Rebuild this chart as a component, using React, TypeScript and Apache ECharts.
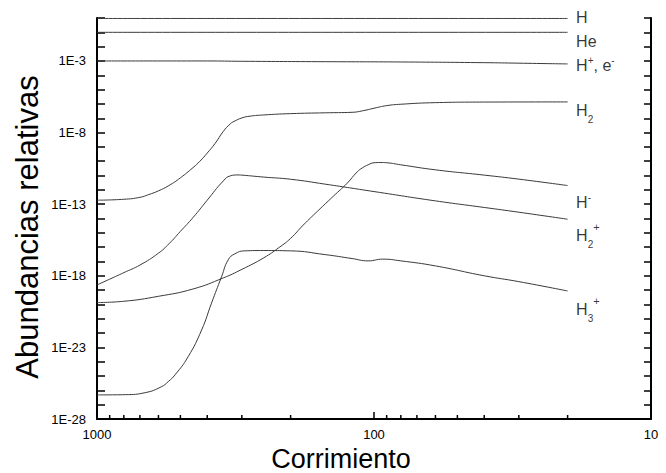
import React, { useEffect, useRef } from 'react';
import * as echarts from 'echarts';

// ---- data (redshift z, relative abundance) ----
const hData = [[1000, 0.93], [20, 0.93]];
const heData = [[1000, 0.1], [20, 0.1]];
const hPlusData = [[1000, 1.0e-3], [400, 1.0e-3], [300, 9.5e-4], [150, 8.9e-4], [80, 8.5e-4], [40, 7.6e-4], [30, 7.0e-4], [20, 6.2e-4]];
const h2Data = [[1000, 1.9e-13], [800, 2.2e-13], [700, 3.0e-13], [650, 4.7e-13], [600, 8.5e-13], [550, 2.0e-12], [500, 6.9e-12], [450, 3.6e-11], [425, 1.0e-10], [400, 3.7e-10], [375, 1.7e-9], [350, 1.2e-8], [330, 4.1e-8], [320, 6.0e-8], [300, 1.05e-7], [280, 1.4e-7], [250, 1.7e-7], [200, 2.1e-7], [150, 2.4e-7], [120, 2.6e-7], [110, 3.3e-7], [100, 5.0e-7], [90, 7.6e-7], [80, 9.5e-7], [60, 1.23e-6], [40, 1.35e-6], [20, 1.38e-6]];
const hMinusData = [[1000, 1.35e-20], [800, 1.66e-20], [600, 3.7e-20], [450, 1.2e-19], [350, 7.1e-19], [300, 2.8e-18], [250, 1.8e-17], [220, 9.5e-17], [200, 4.1e-16], [180, 3.5e-15], [160, 3.2e-14], [140, 3.7e-13], [125, 2.9e-12], [115, 1.8e-11], [110, 3.5e-11], [105, 5.6e-11], [100, 7.8e-11], [95, 8.1e-11], [90, 7.8e-11], [80, 5.6e-11], [60, 2.5e-11], [40, 1.07e-11], [30, 5.6e-12], [20, 2.0e-12]];
const h2PlusData = [[1000, 2.3e-19], [900, 5.8e-19], [800, 1.66e-18], [700, 5.6e-18], [600, 3.8e-17], [550, 1.7e-16], [500, 1.26e-15], [450, 1.17e-14], [400, 1.9e-13], [350, 4.2e-12], [330, 9.5e-12], [310, 1.1e-11], [300, 1.07e-11], [250, 7.8e-12], [200, 5.5e-12], [150, 2.5e-12], [100, 7.6e-13], [60, 1.7e-13], [40, 5.9e-14], [30, 2.75e-14], [20, 8.9e-15]];
const h3PlusData = [[1000, 4.8e-27], [790, 5.0e-27], [670, 6.9e-27], [585, 1.8e-26], [553, 4.1e-26], [523, 1.2e-25], [469, 2.2e-24], [419, 1.66e-22], [386, 1.23e-20], [355, 8.7e-19], [336, 1.3e-17], [318, 3.4e-17], [293, 5.5e-17], [250, 5.8e-17], [200, 5.5e-17], [150, 3.0e-17], [120, 1.6e-17], [105, 1.1e-17], [93, 1.45e-17], [80, 1.1e-17], [60, 4.9e-18], [40, 1.0e-18], [30, 3.9e-19], [20, 8.7e-20]];

const speciesNames = ['H', 'He', 'H+, e-', 'H2', 'H-', 'H2+', 'H3+'];
const speciesLabels = ['H', 'He', 'H{sup|+}, e{sup|-}', 'H{sub|2}', 'H{sup|-}', 'H{sub|2}{sup2|+}', 'H{sub|3}{sup2|+}'];
const speciesData = [hData, heData, hPlusData, h2Data, hMinusData, h2PlusData, h3PlusData];

// axes
const xMajorTicks = [1000, 100, 10];
const xMinorTicks = [900, 800, 700, 600, 500, 400, 300, 200, 90, 80, 70, 60, 50, 40, 30, 20];
const yMinExp = -28;
const yMaxExp = 0;
const yLabelExponents = [-3, -8, -13, -18, -23, -28];

// label vertical offsets (px, style only)
const labelOffsetsY = [-1, 9, 2, 9, 17, 16, 19];

const FONT = 'Liberation Sans, Arial, Helvetica, sans-serif';

export default function App() {
  const ref = useRef<HTMLDivElement>(null);
  useEffect(() => {
    if (!ref.current) return;
    const chart = echarts.init(ref.current, undefined, { renderer: 'svg' });
    const lineSeries = speciesData.map((d, i) => ({
      type: 'line',
      name: speciesNames[i],
      data: d.map(([z, v]) => [z, Math.log10(v)]),
      showSymbol: false,
      symbol: 'none',
      smooth: 0.5,
      lineStyle: { color: '#3a3a3a', width: 1 },
      silent: true,
      z: 2,
    }));
    const labelSeries = {
      type: 'scatter',
      name: 'labels',
      symbolSize: 1,
      itemStyle: { color: 'rgba(0,0,0,0)' },
      silent: true,
      data: speciesData.map((d, i) => ({
        name: speciesLabels[i],
        value: [d[d.length - 1][0], Math.log10(d[d.length - 1][1])],
        label: { offset: [0, labelOffsetsY[i]] },
      })),
      label: {
        show: true,
        position: 'right',
        distance: 8,
        formatter: (p: any) => p.name,
        color: '#000',
        fontSize: 16,
        lineHeight: 16,
        fontFamily: FONT,
        rich: {
          sub: { fontSize: 10, lineHeight: 10, padding: [18, 0, 0, 0], color: '#000', fontFamily: FONT },
          sup: { fontSize: 10, lineHeight: 10, padding: [0, 0, 10, 0], color: '#000', fontFamily: FONT },
          sup2: { fontSize: 11, lineHeight: 11, padding: [0, 0, 17, 0], color: '#000', fontFamily: FONT },
        },
      },
      z: 4,
    };
    const minorTickSeries = {
      type: 'custom',
      name: 'minorTicks',
      silent: true,
      data: xMinorTicks.map((v) => [v, yMinExp]),
      renderItem: (params: any, api: any) => {
        const p = api.coord([api.value(0), yMinExp]);
        return {
          type: 'line',
          shape: { x1: p[0], y1: p[1], x2: p[0], y2: p[1] - 4 },
          style: { stroke: '#000', lineWidth: 1.5 },
        };
      },
      z: 3,
    };
    chart.setOption({
      animation: false,
      backgroundColor: '#fff',
      textStyle: { fontFamily: FONT },
      grid: { left: 97, right: 15, top: 18, bottom: 54 },
      xAxis: {
        type: 'log',
        logBase: 10,
        min: xMajorTicks[2],
        max: xMajorTicks[0],
        inverse: true,
        position: 'bottom',
        axisLine: { show: true, onZero: false, lineStyle: { color: '#000', width: 2 } },
        axisTick: { show: true, inside: true, length: 7, lineStyle: { color: '#000', width: 1.5 } },
        axisLabel: {
          show: true,
          color: '#000',
          fontSize: 13,
          margin: 9,
          fontFamily: FONT,
          showMinLabel: true,
          showMaxLabel: true,
          formatter: (v: number) => String(Math.round(v)),
        },
        splitLine: { show: false },
      },
      yAxis: [
        {
          type: 'value',
          min: yMinExp,
          max: yMaxExp,
          interval: 1,
          position: 'left',
          axisLine: { show: true, onZero: false, lineStyle: { color: '#000', width: 2 } },
          axisTick: { show: true, inside: true, length: 8, interval: 0, lineStyle: { color: '#000', width: 1.5 } },
          axisLabel: {
            show: true,
            interval: 0,
            color: '#000',
            fontSize: 13,
            margin: 11,
            fontFamily: FONT,
            formatter: (v: number) => (yLabelExponents.includes(Math.round(v)) ? `1E${Math.round(v)}` : ''),
          },
          splitLine: { show: false },
        },
        {
          type: 'value',
          min: yMinExp,
          max: yMaxExp,
          interval: 1,
          position: 'right',
          axisLine: { show: true, onZero: false, lineStyle: { color: '#000', width: 2 } },
          axisTick: { show: true, inside: true, length: 7, interval: 0, lineStyle: { color: '#000', width: 1.5 } },
          axisLabel: { show: false },
          splitLine: { show: false },
        },
      ],
      graphic: [
        {
          type: 'text',
          x: 341,
          y: 459,
          style: { text: 'Corrimiento', fontSize: 27, fontFamily: FONT, fill: '#000', align: 'center', verticalAlign: 'middle' },
        },
        {
          type: 'text',
          x: 27,
          y: 227,
          rotation: Math.PI / 2,
          style: { text: 'Abundancias relativas', fontSize: 31, fontFamily: FONT, fill: '#000', align: 'center', verticalAlign: 'middle' },
        },
      ],
      series: [...lineSeries, labelSeries, minorTickSeries],
    });
    return () => chart.dispose();
  }, []);
  return (
    <div
      ref={ref}
      style={{ position: 'fixed', left: 0, top: 0, width: 666, height: 473, background: '#fff' }}
    />
  );
}
